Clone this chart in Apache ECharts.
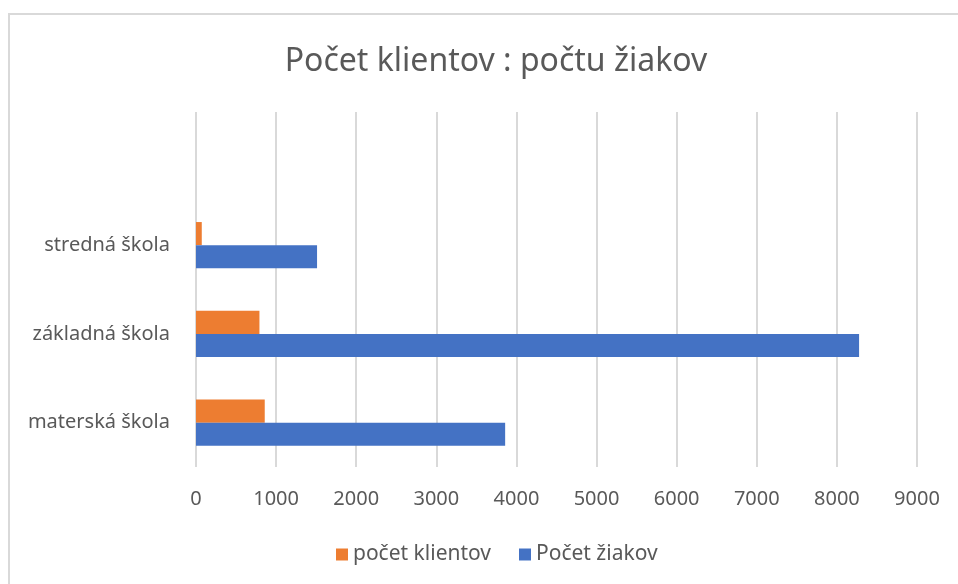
<!DOCTYPE html>
<html lang="sk">
<head>
<meta charset="UTF-8">
<title>Počet klientov : počtu žiakov</title>
<script src="https://cdn.jsdelivr.net/npm/echarts@6/dist/echarts.min.js"></script>
<style>
  html, body { margin: 0; padding: 0; background: #fff; overflow: hidden; }
  #frame { position: absolute; left: 8px; top: 13px; width: 1000px; height: 600px; border: 2px solid #d9d9d9; box-sizing: border-box; }
  #app { position: absolute; left: 0; top: 0; width: 958px; height: 584px; }
</style>
</head>
<body>
<div id="frame"></div>
<div id="app"></div>
<script>
  // data (bottom to top), last category is the empty row
  var categories = ['materská škola', 'základná škola', 'stredná škola', ''];
  var klienti = [858, 792, 72, null];
  var ziaci = [3859, 8277, 1511, null];
  var xTicks = [0, 9000, 1000];

  var myChart = echarts.init(document.getElementById('app'));
  var txt = '#595959';
  var font = 'Noto Sans';

  var option = {
    backgroundColor: 'transparent',
    animation: false,
    title: {
      text: 'Počet klientov : počtu žiakov',
      left: 491,
      top: 41,
      textAlign: 'center',
      textStyle: { color: txt, fontFamily: font, fontSize: 32, fontWeight: 'normal' }
    },
    legend: {
      data: ['počet klientov', 'Počet žiakov'],
      left: 331,
      top: 539,
      itemWidth: 12,
      itemHeight: 12,
      itemGap: 28,
      icon: 'rect',
      textStyle: { color: txt, fontFamily: font, fontSize: 21 }
    },
    grid: { left: 196, right: 41, top: 112, bottom: 117, containLabel: false },
    xAxis: {
      type: 'value',
      min: xTicks[0],
      max: xTicks[1],
      interval: xTicks[2],
      axisLine: { show: false },
      axisTick: { show: false },
      splitLine: { lineStyle: { color: '#d9d9d9', width: 2 } },
      axisLabel: {
        color: txt, fontFamily: font, fontSize: 20, margin: 22,
        formatter: function (v) { return String(v); }
      }
    },
    yAxis: {
      type: 'category',
      data: categories,
      axisLine: { show: false },
      axisTick: { show: false },
      axisLabel: { color: txt, fontFamily: font, fontSize: 20, margin: 26 }
    },
    series: [{
      name: 'počet klientov',
      type: 'bar',
      data: klienti,
      barGap: '0%',
      barCategoryGap: '48%',
      itemStyle: { color: '#ED7D31' }
    }, {
      name: 'Počet žiakov',
      type: 'bar',
      data: ziaci,
      barGap: '0%',
      barCategoryGap: '48%',
      itemStyle: { color: '#4472C4' }
    }]
  };
  myChart.setOption(option);
</script>
</body>
</html>
